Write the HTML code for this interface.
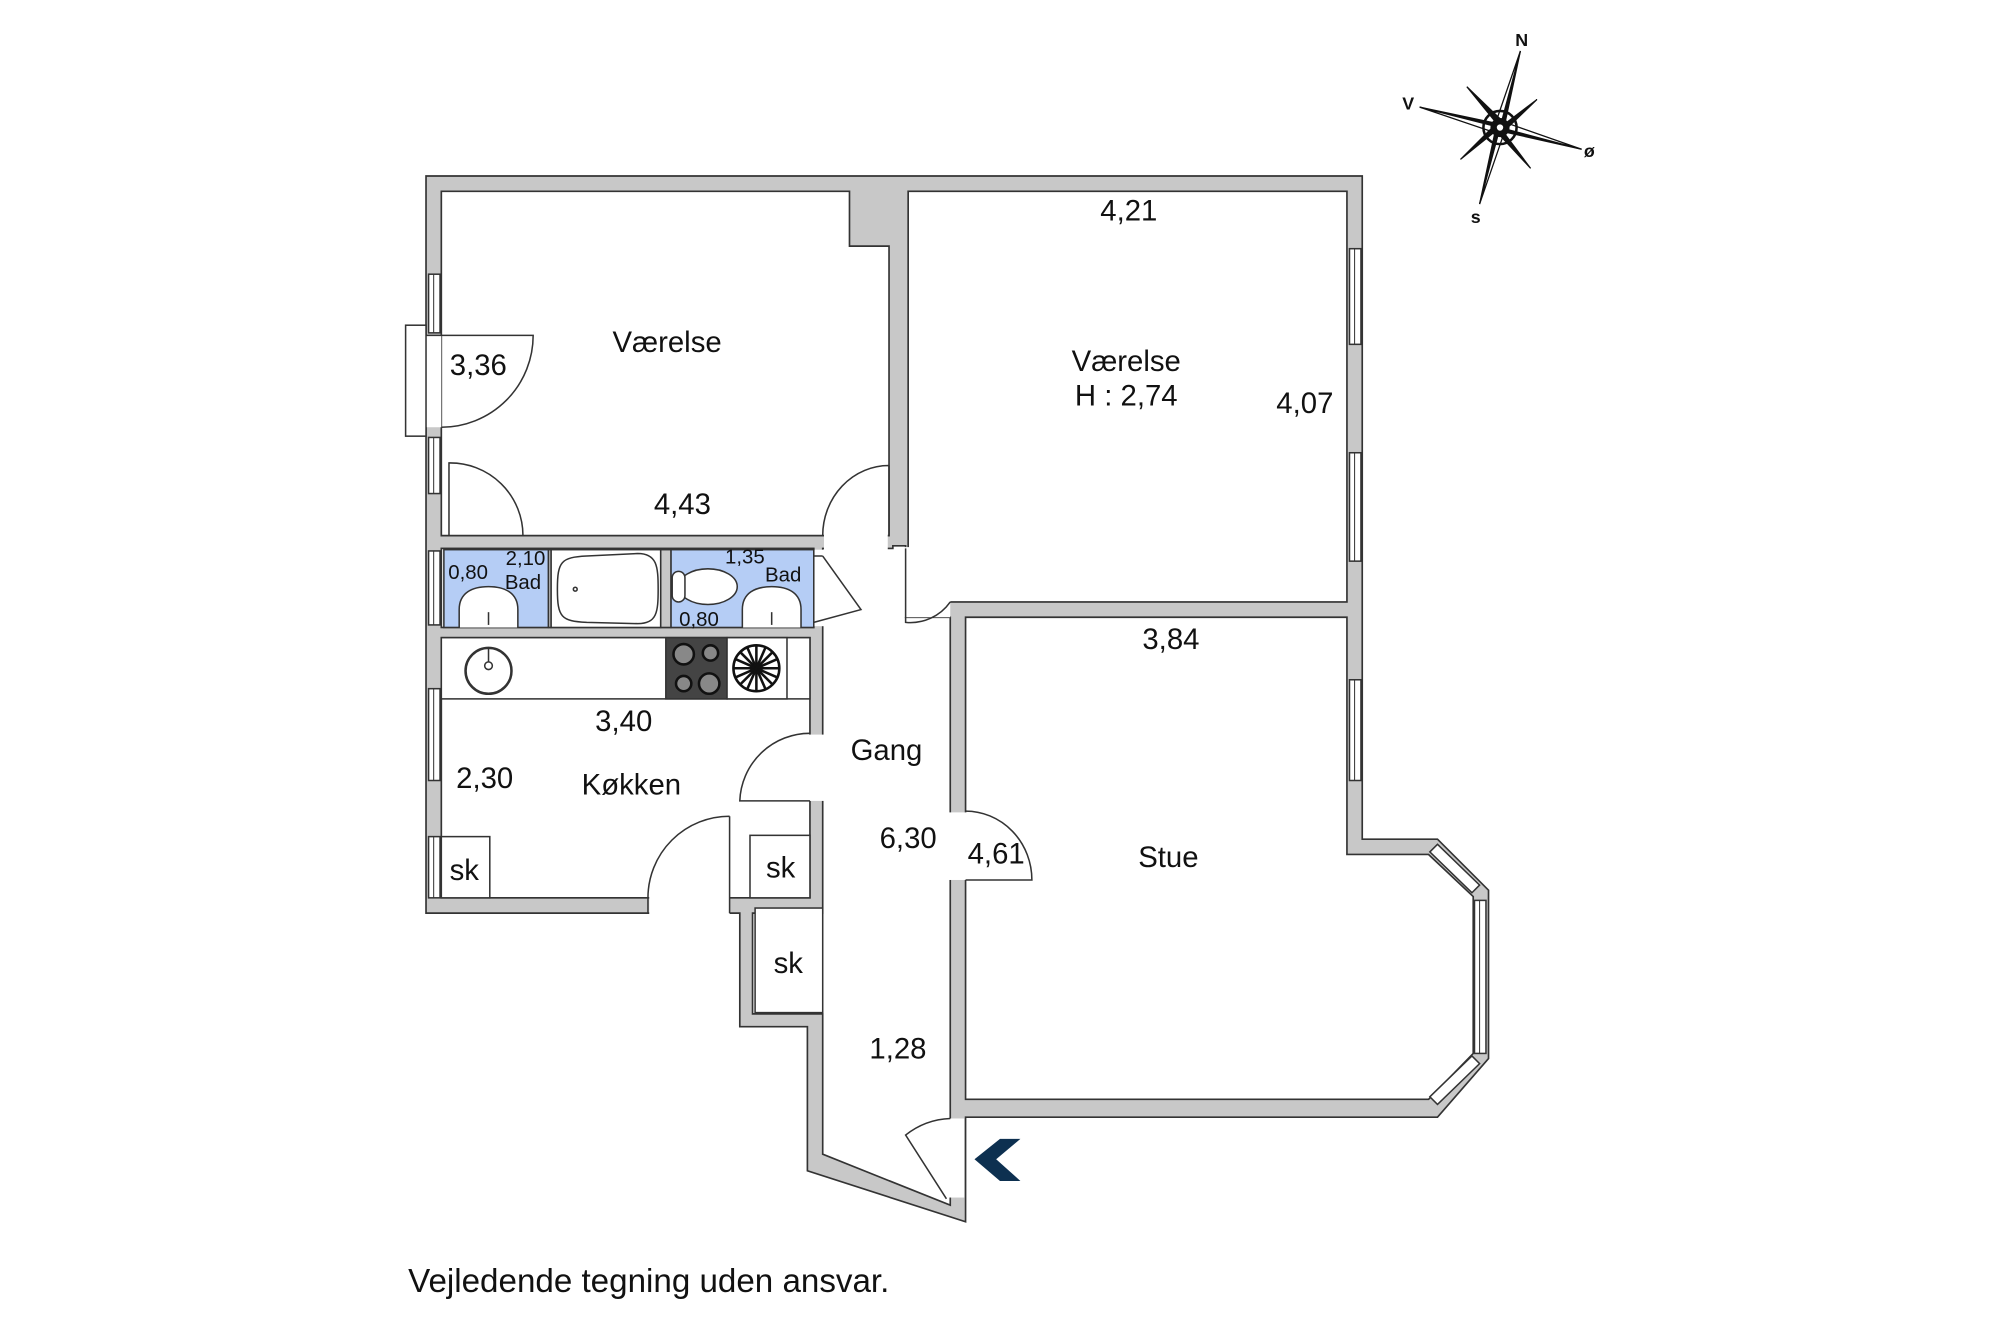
<!DOCTYPE html>
<html><head><meta charset="utf-8"><style>
html,body{margin:0;padding:0;background:#fff;}
svg{display:block}
text{font-family:"Liberation Sans",sans-serif;fill:#111;}
</style></head><body>
<svg width="2000" height="1334" viewBox="0 0 1568 1046" preserveAspectRatio="none" xmlns="http://www.w3.org/2000/svg">
<rect width="1568" height="1046" fill="#fff"/>
<g stroke="#333" stroke-width="1.3">
<polygon fill="#c8c8c8" points="334,138 1068,138 1068,658 1127,658 1167,698 1167,830 1127,876 757,876 757,958 633,918 633,805 580,805 580,716 334,716"/>
<polygon fill="#fff" points="346,150 666,150 666,193 697,193 697,420 346,420"/>
<rect fill="#fff" x="712" y="150" width="344" height="322"/>
<polygon fill="#fff" points="757,484 1056,484 1056,670 1120,670 1155,703 1155,826 1120,862 757,862"/>
<polygon fill="#fff" points="645,430 700,430 700,428 710,428 710,484 745,484 745,945 645,905 645,795 590,795 590,716 645,716"/>
<rect fill="#fff" x="346" y="430" width="292" height="62"/>
<rect fill="#fff" x="346" y="500" width="289" height="204"/>
</g>
<g fill="#fff">
<rect x="646" y="419" width="50" height="12"/>
<rect x="701" y="429" width="44" height="55"/>
<rect x="634" y="576" width="12" height="52"/>
<rect x="509" y="703" width="63" height="14"/>
<rect x="744" y="637" width="14" height="53"/>
<rect x="744" y="877" width="12" height="62"/>
<rect x="318" y="263" width="28" height="72"/>
<rect x="636" y="431" width="10" height="60"/>
</g>
<g stroke="#333" stroke-width="1.2" fill="none">
<rect x="348" y="431" width="82" height="61" fill="#b5cdf5"/>
<rect x="432" y="431" width="86" height="61" fill="#fff"/>
<rect x="526" y="431" width="112" height="61" fill="#b5cdf5"/>
<rect x="518" y="431" width="8" height="61" fill="#c8c8c8"/>
<rect x="430" y="431" width="2" height="61" fill="#c8c8c8"/>
<path d="M437,462 C437,440 440,437 460,436 L500,434 C515,434 516,444 516,462 C516,480 515,489 500,489 L460,488 C440,487 437,484 437,462Z"/>
<circle cx="451" cy="462" r="1.5"/>
<path d="M360,492 L360,478 C360,465 370,460 383,460 C396,460 406,465 406,478 L406,492" fill="#fff"/>
<line x1="383" y1="480" x2="383" y2="490"/>
<path d="M582,492 L582,478 C582,465 592,460 605,460 C618,460 628,465 628,478 L628,492" fill="#fff"/>
<line x1="605" y1="480" x2="605" y2="490"/>
<ellipse cx="555" cy="460" rx="23" ry="14" fill="#fff"/>
<rect x="527" y="448" width="10" height="24" rx="5" fill="#fff"/>
<path d="M638,430 L638,436 L645,436 M645,436 L675,478 L638,488"/>
<rect x="346" y="500" width="289" height="48" fill="#fff"/>
<rect x="522" y="500" width="48" height="48" fill="#444"/>
<rect x="570" y="500" width="47" height="48" fill="#fff"/>
<circle cx="383" cy="526" r="18" stroke-width="2"/>
<circle cx="383" cy="522" r="3"/><line x1="383" y1="508" x2="383" y2="519"/>
<g fill="#888" stroke="#111" stroke-width="2"><circle cx="536" cy="513" r="8"/><circle cx="557" cy="512" r="6"/><circle cx="536" cy="536" r="6"/><circle cx="556" cy="536" r="8"/></g>
<circle cx="593" cy="524" r="18" stroke="#111" stroke-width="2"/>
<g stroke="#111" stroke-width="2"><line x1="575" y1="524" x2="611" y2="524"/><line x1="593" y1="506" x2="593" y2="542"/><line x1="580" y1="511" x2="606" y2="537"/><line x1="606" y1="511" x2="580" y2="537"/><line x1="577" y1="517" x2="609" y2="531"/><line x1="609" y1="517" x2="577" y2="531"/><line x1="586" y1="508" x2="600" y2="540"/><line x1="600" y1="508" x2="586" y2="540"/></g>
<rect x="346" y="656" width="38" height="48" fill="#fff"/>
<rect x="588" y="655" width="47" height="49" fill="#fff"/>
<rect x="592" y="712" width="53" height="82" fill="#fff"/>
<path d="M334,263 L418,263 A72,72 0 0 1 346,335"/>
<path d="M352,420 L352,363 A57,57 0 0 1 410,420"/>
<path d="M697,365 A52,55 0 0 0 645,420 M697,365 L697,420"/>
<path d="M710,430 L710,488 A38,38 0 0 0 745,472"/>
<path d="M635,575 A55,55 0 0 0 580,628 L635,628"/>
<path d="M572,640 L572,716 M572,640 A64,64 0 0 0 508,704 L508,716"/>
<path d="M757,636 A52,54 0 0 1 809,690 L757,690"/>
<path d="M745,877 A60,60 0 0 0 710,890 L742,940"/>
<g fill="#fff">
<rect x="336" y="215" width="9" height="46"/><rect x="336" y="343" width="9" height="44"/><rect x="336" y="432" width="9" height="58"/><rect x="336" y="540" width="9" height="72"/><rect x="336" y="656" width="9" height="48"/>
<rect x="318" y="255" width="16" height="87"/>
<rect x="1058" y="195" width="9" height="75"/><rect x="1058" y="355" width="9" height="85"/><rect x="1058" y="533" width="9" height="79"/>
<rect x="1156" y="706" width="9" height="120"/>
<polygon points="1127,662 1160,694 1154,700 1121,668"/>
<polygon points="1160,834 1127,866 1121,860 1154,828"/>
</g>
<g stroke-width="0.8">
<line x1="340" y1="215" x2="340" y2="261"/><line x1="340" y1="343" x2="340" y2="387"/><line x1="340" y1="432" x2="340" y2="490"/><line x1="340" y1="540" x2="340" y2="612"/><line x1="340" y1="656" x2="340" y2="704"/>
<line x1="1062" y1="195" x2="1062" y2="270"/><line x1="1062" y1="355" x2="1062" y2="440"/><line x1="1062" y1="533" x2="1062" y2="612"/><line x1="1160" y1="706" x2="1160" y2="826"/>
</g>
</g>
<polygon points="800,893 784,893 764,909 784,926 800,926 781,909" fill="#0d3050"/>
<g stroke="#111" stroke-width="1">
<polygon points="1176,100 1113,84 1170,96" fill="#111"/><polygon points="1176,100 1113,84 1172,104" fill="#fff"/>
<polygon points="1176,100 1240,117 1182,104" fill="#111"/><polygon points="1176,100 1240,117 1180,96" fill="#fff"/>
<polygon points="1176,100 1192,40 1180,96" fill="#111"/><polygon points="1176,100 1192,40 1172,98" fill="#fff"/>
<polygon points="1176,100 1160,160 1172,104" fill="#111"/><polygon points="1176,100 1160,160 1180,102" fill="#fff"/>
<polygon points="1176,100 1150,68 1178,95" fill="#111"/><polygon points="1176,100 1205,78 1179,103" fill="#111"/>
<polygon points="1176,100 1145,125 1173,97" fill="#111"/><polygon points="1176,100 1200,132 1174,104" fill="#111"/>
<circle cx="1176" cy="100" r="13" fill="none" stroke-width="2"/>
<circle cx="1176" cy="100" r="7" fill="#111"/><circle cx="1176" cy="100" r="3" fill="#fff"/>
</g>
<g font-size="14" text-anchor="middle" style="font-weight:bold">
<text x="1193" y="36">N</text><text x="1104" y="86">V</text><text x="1246" y="123">ø</text><text x="1157" y="175">s</text>
</g>
<g font-size="23" text-anchor="middle">
<text x="523" y="276">Værelse</text>
<text x="375" y="294">3,36</text>
<text x="535" y="403">4,43</text>
<text x="885" y="173">4,21</text>
<text x="883" y="291">Værelse</text>
<text x="883" y="318">H : 2,74</text>
<text x="1023" y="324">4,07</text>
<text x="918" y="509">3,84</text>
<text x="916" y="680">Stue</text>
<text x="781" y="677">4,61</text>
<text x="695" y="596">Gang</text>
<text x="712" y="665">6,30</text>
<text x="704" y="830">1,28</text>
<text x="489" y="573">3,40</text>
<text x="495" y="623">Køkken</text>
<text x="380" y="618">2,30</text>
<text x="364" y="690">sk</text>
<text x="612" y="688">sk</text>
<text x="618" y="763">sk</text>
</g>
<g font-size="16" text-anchor="middle">
<text x="367" y="454">0,80</text>
<text x="412" y="443">2,10</text>
<text x="410" y="462">Bad</text>
<text x="584" y="442">1,35</text>
<text x="614" y="456">Bad</text>
<text x="548" y="491">0,80</text>
</g>
<text x="320" y="1013" font-size="26">Vejledende tegning uden ansvar.</text>
</svg>
</body></html>
